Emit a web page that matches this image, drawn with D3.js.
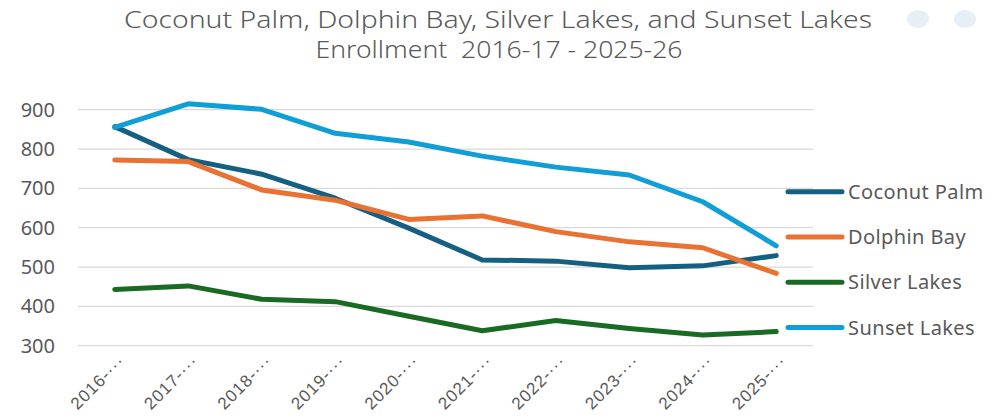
<!DOCTYPE html>
<html lang="en">
<head>
    <meta charset="UTF-8">
    <title>Enrollment 2016-17 - 2025-26</title>
    <script src="https://d3js.org/d3.v7.min.js"></script>
    <style>
        body { margin: 0; background: #fff; }
        text { font-family: "Noto Sans", "Liberation Sans", sans-serif; fill: #595959; }
    </style>
</head>
<body>
    <div id="chart"></div>
    <script>
        // data
        const years = ["2016-17", "2017-18", "2018-19", "2019-20", "2020-21",
                       "2021-22", "2022-23", "2023-24", "2024-25", "2025-26"];
        const coconutPalm = [857, 773, 736, 675, 599, 518, 515, 498, 503, 529];
        const dolphinBay  = [772, 768, 696, 670, 621, 630, 590, 564, 549, 484];
        const silverLakes = [443, 452, 418, 412, 375, 338, 364, 344, 327, 336];
        const sunsetLakes = [855, 915, 901, 840, 818, 782, 754, 734, 666, 554];
        const yTicks = [300, 400, 500, 600, 700, 800, 900];

        const series = [
            { name: "Coconut Palm", values: coconutPalm, color: "#156082" },
            { name: "Dolphin Bay",  values: dolphinBay,  color: "#E97132" },
            { name: "Silver Lakes", values: silverLakes, color: "#196B24" },
            { name: "Sunset Lakes", values: sunsetLakes, color: "#0F9ED5" }
        ];

        const W = 1004, H = 418;
        const svg = d3.select("#chart").append("svg")
            .attr("width", W).attr("height", H);

        // title
        svg.append("text").attr("x", 498).attr("y", 28)
            .attr("text-anchor", "middle").attr("font-size", 24)
            .attr("textLength", 748).attr("lengthAdjust", "spacingAndGlyphs")
            .style("font-weight", 300)
            .text("Coconut Palm, Dolphin Bay, Silver Lakes, and Sunset Lakes");
        svg.append("text").attr("x", 499).attr("y", 58)
            .attr("text-anchor", "middle").attr("font-size", 24)
            .attr("textLength", 367).attr("lengthAdjust", "spacingAndGlyphs")
            .style("font-weight", 300).style("white-space", "pre")
            .text("Enrollment  2016-17 - 2025-26");

        // faint chart buttons at top right
        [918, 965].forEach(cx => {
            svg.append("ellipse").attr("cx", cx).attr("cy", 19)
                .attr("rx", 11).attr("ry", 9).attr("fill", "#e6eef6");
        });

        const x = d3.scaleBand().domain(years).range([78, 813]);
        const y = d3.scaleLinear().domain([300, 900]).range([345.7, 109.7]);

        // gridlines
        svg.append("g").selectAll("line").data(yTicks).join("line")
            .attr("x1", 78).attr("x2", 813)
            .attr("y1", d => y(d)).attr("y2", d => y(d))
            .attr("stroke", "#d9d9d9").attr("stroke-width", 1.3);

        // y axis labels
        const yAxis = svg.append("g").attr("transform", "translate(69,0)")
            .call(d3.axisLeft(y).tickValues(yTicks).tickSize(0).tickPadding(14));
        yAxis.select(".domain").remove();
        yAxis.selectAll("text").attr("font-size", 20)
            .style("font-family", "'Noto Sans', sans-serif").attr("fill", "#595959");

        // x axis labels, truncated like the original
        const xAxis = svg.append("g").attr("transform", "translate(0,358)")
            .call(d3.axisBottom(x).tickSize(0).tickPadding(0)
                .tickFormat(d => d.slice(0, 5) + "\u00b7\u00b7\u00b7"));
        xAxis.select(".domain").remove();
        xAxis.selectAll("text")
            .attr("font-size", 17).attr("fill", "#595959")
            .style("font-family", "'Liberation Sans', sans-serif")
            .style("letter-spacing", "1px")
            .attr("text-anchor", "end")
            .attr("y", 0).attr("dy", "0.35em")
            .attr("transform", "translate(7,0) rotate(-45)");

        // lines
        const line = d3.line()
            .x((d, i) => x(years[i]) + x.bandwidth() / 2)
            .y(d => y(d));
        svg.append("g").selectAll("path").data(series).join("path")
            .attr("d", d => line(d.values))
            .attr("fill", "none")
            .attr("stroke", d => d.color)
            .attr("stroke-width", 5)
            .attr("stroke-linecap", "round")
            .attr("stroke-linejoin", "round");

        // legend
        const legend = svg.append("g").selectAll("g").data(series).join("g")
            .attr("transform", (d, i) => `translate(788,${191.7 + i * 45.3})`);
        legend.append("line").attr("x1", 0).attr("x2", 54)
            .attr("stroke", d => d.color).attr("stroke-width", 5)
            .attr("stroke-linecap", "round");
        legend.append("text").attr("x", 60).attr("dy", "0.35em")
            .attr("font-size", 20).style("letter-spacing", "0.4px")
            .text(d => d.name);
    </script>
</body>
</html>
